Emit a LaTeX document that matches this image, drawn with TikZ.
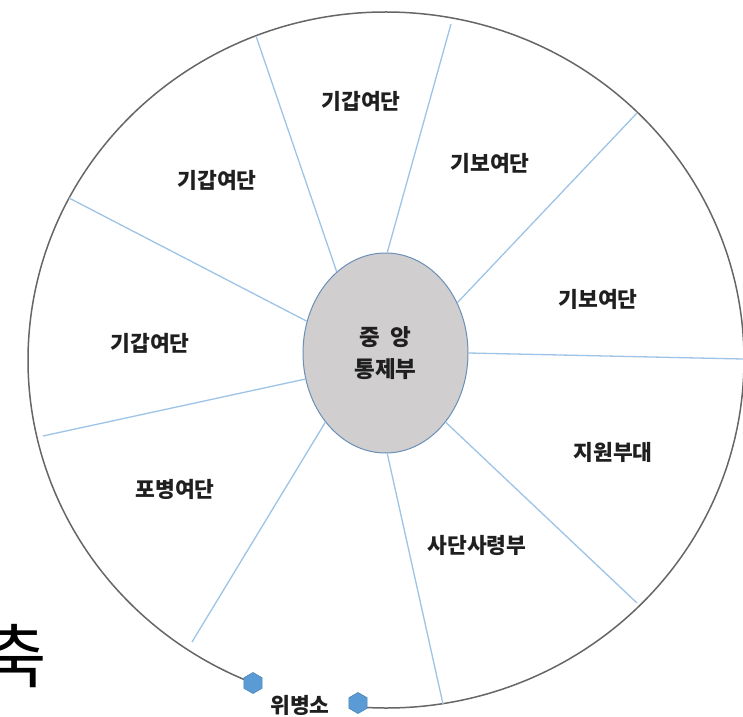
\documentclass[tikz,border=0pt]{standalone}
\usepackage{fontspec}
\newfontfamily\kr{Noto Sans CJK KR}
\usetikzlibrary{shapes.geometric}
\definecolor{spoke}{HTML}{9DC3E6}
\definecolor{ring}{HTML}{666666}
\definecolor{hubfill}{HTML}{D0CECE}
\definecolor{hubdraw}{HTML}{6A8FB8}
\definecolor{hexfill}{HTML}{5B9BD5}
\begin{document}
\begin{tikzpicture}[x=1pt,y=1pt,
  spokeline/.style={draw=spoke, line width=1.3pt},
  lbl/.style={font=\kr\bfseries\fontsize{21.5}{25}\selectfont, text=black!88, inner sep=0pt},
  hexmark/.style={regular polygon, regular polygon sides=6, shape border rotate=30, minimum size=21pt, inner sep=0pt, fill=hexfill, draw=hexfill!85!black, line width=0.6pt}]
\useasboundingbox (0,0) rectangle (743,716);
% outer ring with a gap at the gate
\coordinate (ringc) at (386,356);
\draw[draw=ring, line width=1.5pt] ([shift={(265.5:358 and 348)}]ringc) arc[start angle=265.5, end angle=608.2, x radius=358, y radius=348];
% central hub
\node[ellipse, minimum width=165pt, minimum height=200pt, fill=hubfill, draw=hubdraw, line width=1pt, align=center, inner sep=0pt, font=\kr\bfseries\fontsize{22.5}{32}\selectfont, text=black!88] (hub) at (385.5,363) {중 \hspace{5pt}앙\\통제부};
% outer ends of the spokes
\coordinate (o1) at (69,518);
\coordinate (o2) at (256,680);
\coordinate (o3) at (451,692);
\coordinate (o4) at (637,603);
\coordinate (o5) at (743,357);
\coordinate (o6) at (637,113);
\coordinate (o7) at (443,12);
\coordinate (o8) at (192,74);
\coordinate (o9) at (43,280);
\draw[spokeline] (hub.158.9) -- (o1);
\draw[spokeline] (hub.121.1) -- (o2);
\draw[spokeline] (hub.89.1) -- (o3);
\draw[spokeline] (hub.35.8) -- (o4);
\draw[spokeline] (hub.0) -- (o5);
\draw[spokeline] (hub.-49.5) -- (o6);
\draw[spokeline] (hub.-89) -- (o7);
\draw[spokeline] (hub.229.9) -- (o8);
\draw[spokeline] (hub.198.7) -- (o9);
% sector labels
\node[lbl] (s1) at (217,536) {기갑여단};
\node[lbl] (s2) at (361,615) {기갑여단};
\node[lbl] (s3) at (490,553) {기보여단};
\node[lbl] (s4) at (598,417) {기보여단};
\node[lbl] (s5) at (613,264) {지원부대};
\node[lbl] (s6) at (477,171) {사단사령부};
\node[lbl] (s7) at (175,227) {포병여단};
\node[lbl] (s8) at (150,373) {기갑여단};
% gate
\node[hexmark] (hexL) at (253,33) {};
\node[hexmark] (hexR) at (358,13) {};
\node[lbl] (gate) at (300,11) {위병소};
% cut-off character at the left
\node[font=\kr\fontsize{70}{80}\selectfont, inner sep=0pt, text=black] (axis) at (15,60) {축};
\end{tikzpicture}
\end{document}
